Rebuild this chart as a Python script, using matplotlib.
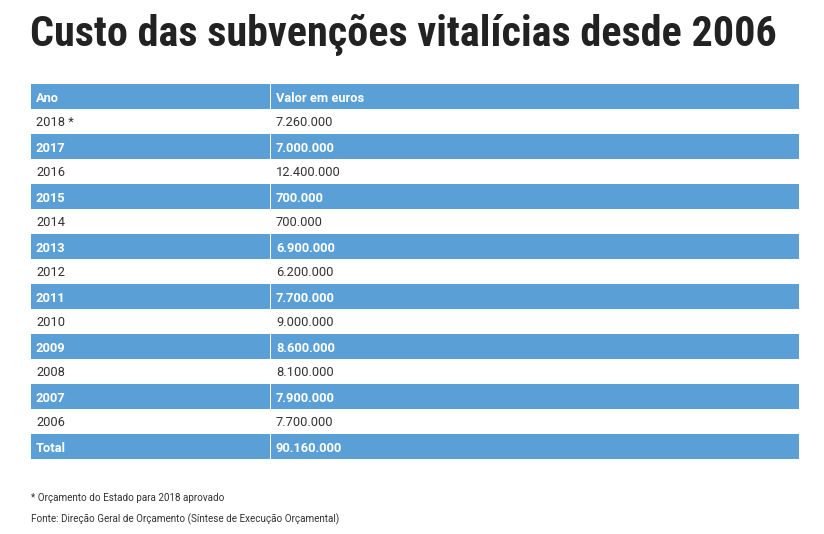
import matplotlib
matplotlib.use("Agg")
import matplotlib.pyplot as plt
from matplotlib import font_manager

years = ["2018 *", "2017", "2016", "2015", "2014", "2013", "2012", "2011",
         "2010", "2009", "2008", "2007", "2006"]
values = ["7.260.000", "7.000.000", "12.400.000", "700.000", "700.000",
          "6.900.000", "6.200.000", "7.700.000", "9.000.000", "8.600.000",
          "8.100.000", "7.900.000", "7.700.000"]
header = ["Ano", "Valor em euros"]
total = ["Total", "90.160.000"]
title = "Custo das subvenções vitalícias desde 2006"
notes = ["* Orçamento do Estado para 2018 aprovado",
         "Fonte: Direção Geral de Orçamento (Síntese de Execução Orçamental)"]

names = {f.name for f in font_manager.fontManager.ttflist}
title_family = "Roboto Condensed" if "Roboto Condensed" in names else "Roboto"

W, H = 824, 534
fig = plt.figure(figsize=(W / 100, H / 100), dpi=100)
ax = fig.add_axes([0, 0, 1, 1])
ax.set_xlim(0, W)
ax.set_ylim(H, 0)
ax.axis("off")

blue = "#5a9fd6"
left, split, right = 31, 270, 799
top, rh = 84, 25

rows = [header] + [[y, v] for y, v in zip(years, values)] + [total]
for i, (a, b) in enumerate(rows):
    yc = top + rh * i + rh / 2
    shaded = (i % 2 == 0)
    if shaded:
        ax.barh(yc, split - left, left=left, height=rh, color=blue, edgecolor="none")
        ax.barh(yc, right - split - 1, left=split + 1, height=rh, color=blue, edgecolor="none")
        col, wt = "white", "bold"
    else:
        col, wt = "#333333", "normal"
    ax.text(left + 5, yc, a, ha="left", va="center_baseline", fontsize=9.3,
            family="Roboto", color=col, weight=wt)
    ax.text(split + 6, yc, b, ha="left", va="center_baseline", fontsize=9.3,
            family="Roboto", color=col, weight=wt)

ax.text(30, 46, title, ha="left", va="baseline",
        fontsize=30.3 if title_family != "Roboto" else 26,
        family=title_family, weight="bold", color="#222222")

ax.text(31, 501, notes[0], ha="left", va="baseline", fontsize=7.15, family="Roboto", color="#333333")
ax.text(31, 522, notes[1], ha="left", va="baseline", fontsize=7.15, family="Roboto", color="#333333")

fig.savefig("out.png", dpi=100, facecolor="white")
